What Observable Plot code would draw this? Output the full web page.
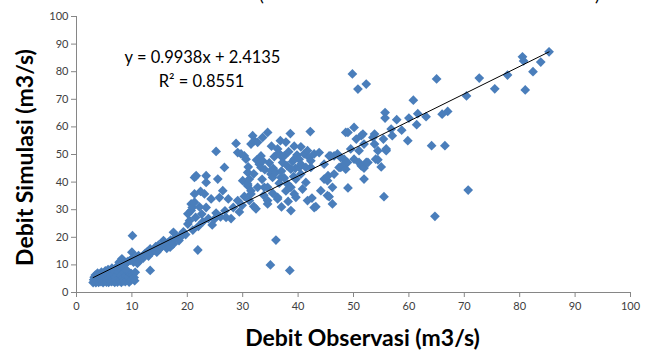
<!DOCTYPE html>
<html><head><meta charset="utf-8">
<script src="https://cdn.jsdelivr.net/npm/d3@7"></script>
<script src="https://cdn.jsdelivr.net/npm/@observablehq/plot@0.6"></script>
<style>
body{margin:0;background:#fff;}
#wrap{position:relative;width:660px;height:354px;overflow:hidden;font-family:Lato,sans-serif;}
#wrap svg{position:absolute;left:0;top:0;}
.paren{position:absolute;top:-15px;font:18px Lato;line-height:18px;color:#000;}
</style></head><body>
<div id="wrap"></div>
<script>
// [Debit Observasi, Debit Simulasi] pairs, grouped by flow range
const lowFlow = [[3.0,3.6],[3.1,4.6],[3.2,5.5],[3.3,4.1],[3.4,6.3],[3.5,3.6],[3.6,5.0],[3.7,4.3],[3.8,7.0],[3.9,5.8],[4.0,3.7],[4.1,4.7],[4.2,6.4],[4.3,5.3],[4.4,3.9],[4.5,7.4],[4.6,4.4],[4.7,6.0],[4.8,3.6],[4.9,5.1],[5.0,6.8],[5.1,4.2],[5.2,7.8],[5.3,5.6],[5.4,3.8],[5.5,4.8],[5.6,6.4],[5.7,8.3],[5.8,3.7],[5.9,5.2],[6.0,4.3],[6.1,7.2],[6.2,6.0],[6.3,3.9],[6.4,8.8],[6.5,5.0],[6.6,4.1],[6.7,6.7],[6.8,7.9],[6.9,3.7],[7.0,5.5],[7.1,4.5],[7.2,9.2],[7.3,6.3],[7.4,3.8],[7.5,7.5],[7.6,5.0],[7.7,11.0],[7.8,4.2],[7.9,8.5],[8.0,6.2],[8.1,3.7],[8.2,12.2],[8.3,9.5],[8.4,5.3],[8.5,4.2],[8.6,7.3],[8.7,10.2],[8.8,3.9],[8.9,6.0],[9.0,8.2],[9.1,10.9],[9.2,4.7],[9.3,11.3],[9.4,5.6],[9.5,3.8],[9.6,7.0],[9.7,11.6],[9.8,4.4],[9.9,6.8],[10.0,12.2],[10.0,14.6],[10.1,20.6],[10.2,6.4],[10.3,11.0],[10.4,5.4],[10.5,4.3],[10.6,7.3],[10.8,12.8],[11.0,10.6],[11.2,13.4],[11.5,11.8],[11.7,12.6],[12.0,12.4],[12.1,13.4],[12.4,14.2]];
const bandFlow = [[12.8,14.8],[13.0,13.2],[13.3,8.0],[13.3,15.8],[13.6,14.6],[14.0,15.4],[14.3,16.6],[14.5,14.6],[14.5,16.4],[14.8,17.2],[15.0,15.8],[15.3,16.4],[15.7,18.8],[16.0,17.0],[16.3,16.0],[16.6,18.2],[16.9,16.4],[17.0,19.0],[17.5,17.6],[17.5,21.8],[17.8,19.6],[18.1,20.0],[18.5,18.8],[18.6,20.4],[19.0,20.5],[19.3,22.0],[19.7,21.0]];
const midLowFlow = [[20.1,24.8],[20.1,28.5],[20.4,26.0],[20.7,29.7],[20.7,32.1],[20.9,30.8],[21.0,22.6],[21.3,32.7],[21.3,35.7],[21.3,41.7],[21.6,42.3],[21.5,27.2],[21.9,15.4],[22.0,24.0],[22.2,31.0],[22.4,36.6],[22.6,28.4],[22.8,25.6],[23.1,35.7],[23.4,30.8],[23.4,39.9],[23.4,42.3],[23.8,26.8],[24.3,33.9],[24.5,24.5],[24.9,26.6],[25.2,51.1],[25.2,28.8],[25.5,41.1],[25.8,34.4],[26.0,27.4],[26.4,36.9],[26.7,45.3],[26.8,29.6],[27.0,27.2],[27.4,33.9],[27.9,26.8],[28.3,30.8],[28.8,54.0],[29.1,33.3],[29.1,50.7],[29.4,29.2],[29.7,50.2],[29.9,31.6]];
const midFlow = [[30.0,40.5],[30.3,34.8],[30.3,49.5],[30.6,48.3],[30.9,43.5],[30.9,38.7],[30.9,39.3],[31.0,45.5],[31.2,41.1],[31.2,33.3],[31.5,36.9],[31.5,35.7],[31.5,53.8],[31.8,56.8],[32.0,31.2],[32.0,43.0],[32.1,55.0],[32.4,30.3],[32.5,48.0],[32.7,38.1],[32.7,54.4],[33.0,46.5],[33.3,49.5],[33.3,45.3],[33.5,41.0],[33.6,47.7],[33.6,56.2],[33.8,35.2],[33.9,38.1],[34.0,44.5],[34.5,32.1],[34.5,33.3],[34.5,38.1],[34.5,58.0],[34.8,47.0],[35.0,10.0],[35.1,42.9],[35.1,44.1],[35.2,53.0],[35.4,41.7],[35.4,36.0],[35.5,45.0],[35.7,49.2],[36.0,19.0],[36.0,43.5],[36.3,33.9],[36.3,34.5],[36.3,52.0],[36.5,50.5],[36.6,39.6],[36.8,55.0],[36.9,49.5],[36.9,41.7],[37.0,31.0],[37.0,44.0],[37.2,47.1],[37.5,49.5],[37.5,41.5],[37.8,36.8],[37.8,54.5],[38.0,46.0],[38.1,39.3],[38.2,33.0],[38.3,51.0],[38.5,8.0],[38.6,57.6],[38.7,44.7],[38.7,38.1],[38.7,29.7],[39.0,47.5],[39.2,42.0],[39.3,48.3],[39.3,35.7],[39.3,53.0],[39.5,45.0],[39.6,34.5],[39.6,41.1],[39.8,49.8]];
const midHighFlow = [[40.2,45.3],[40.2,48.3],[40.5,52.8],[40.5,46.5],[40.5,42.9],[40.8,37.5],[41.1,50.2],[41.4,39.9],[41.4,45.3],[41.7,51.4],[41.7,33.3],[42.0,48.9],[42.2,58.3],[42.3,45.3],[42.3,47.7],[42.5,34.2],[42.9,50.2],[42.9,30.8],[43.2,31.1],[43.8,50.7],[44.1,36.9],[44.7,46.5],[44.7,41.1],[45.3,40.5],[45.3,35.1],[45.4,42.3],[45.6,49.5],[45.6,34.7],[45.9,49.5],[46.2,38.1],[46.2,32.1],[46.5,42.9],[46.5,49.5],[47.1,50.2],[47.4,45.3],[47.7,45.3],[47.7,48.9],[48.3,48.3],[48.3,46.5],[48.6,44.7],[48.6,58.0],[48.9,47.1],[49.0,37.9],[49.0,58.0],[49.5,52.0],[49.8,79.2],[50.1,59.8],[50.1,48.3],[50.5,55.6],[50.8,73.7],[51.0,51.4],[51.0,47.1],[51.4,56.8],[51.4,45.9],[51.7,57.4],[51.9,53.8],[51.9,41.1],[51.9,45.1],[52.3,75.5],[52.3,47.1],[52.6,47.1],[53.5,56.2],[53.8,57.4],[53.8,53.8],[54.0,48.3],[54.4,51.4],[54.4,48.1],[55.0,45.5]];
const highFlow = [[55.5,34.7],[55.7,65.2],[55.7,63.2],[55.4,55.6],[55.9,52.0],[55.9,51.4],[56.8,59.2],[57.0,56.8],[57.8,62.6],[58.7,58.8],[59.8,55.0],[60.0,63.2],[60.8,69.7],[61.4,60.8],[61.6,64.8],[63.1,63.7],[64.1,53.2],[64.7,27.6],[65.0,77.4],[66.0,64.6],[66.5,53.2],[67.0,65.6],[70.4,71.2],[70.7,37.1],[72.7,77.7],[75.5,73.8],[77.8,78.8],[80.5,85.4],[80.7,83.9],[81.0,73.4],[82.4,80.0],[83.8,83.5],[85.3,87.2]];

const xTicks = [0,10,20,30,40,50,60,70,80,90,100];
const yTicks = [0,10,20,30,40,50,60,70,80,90,100];
const slope = 0.9938, intercept = 2.4135, rSquared = 0.8551;
const xTitle = "Debit Observasi (m3/s)";
const yTitle = "Debit Simulasi (m3/s)";

const points = [...lowFlow, ...bandFlow, ...midLowFlow, ...midFlow, ...midHighFlow, ...highFlow]
  .map(([obs, sim]) => ({obs, sim}));
const xExt = d3.extent(points, d => d.obs);
const trend = xExt.map(x => ({obs: x, sim: slope * x + intercept}));

const mL = 76, mT = 16;
const chart = Plot.plot({
  width: 660, height: 354,
  marginLeft: mL, marginRight: 30, marginTop: mT, marginBottom: 62,
  style: {fontFamily: "Lato, sans-serif", background: "transparent"},
  x: {domain: [0, 100]},
  y: {domain: [0, 100]},
  marks: [
    Plot.ruleX([0], {stroke: "#868686"}),
    Plot.ruleY([0], {stroke: "#868686"}),
    Plot.axisX({ticks: xTicks, tickSize: 5, tickPadding: 5, stroke: "#868686", fill: "#404040", fontSize: 11, label: null, tickFormat: d => d}),
    Plot.axisY({ticks: yTicks, tickSize: 5, tickPadding: 3, stroke: "#868686", fill: "#404040", fontSize: 11, label: null, tickFormat: d => d}),
    Plot.dot(points, {x: "obs", y: "sim", symbol: "diamond2", r: 4.4, fill: "#4A7EBB", stroke: null}),
    Plot.line(trend, {x: "obs", y: "sim", stroke: "#000", strokeWidth: 1}),
    Plot.text([`y = ${slope}x + ${intercept}`], {frameAnchor: "top-left", dx: 202 - mL, dy: 51 - mT, textAnchor: "middle", fontSize: 16.5, fill: "#000"}),
    Plot.text([`R² = ${rSquared}`], {frameAnchor: "top-left", dx: 201 - mL, dy: 75 - mT, textAnchor: "middle", fontSize: 16.5, fill: "#000"}),
    Plot.text([xTitle], {frameAnchor: "bottom", dx: 9, dy: 53, textAnchor: "middle", fontSize: 23, fontWeight: "bold", fill: "#000"}),
    Plot.text([yTitle], {frameAnchor: "left", dx: -51, dy: 3, textAnchor: "middle", rotate: -90, fontSize: 23, fontWeight: "bold", fill: "#000"})
  ]
});
const wrap = document.getElementById("wrap");
wrap.appendChild(chart);
for (const [ch, left] of [["(", 259], [")", 595]]) {
  const s = document.createElement("span");
  s.className = "paren"; s.textContent = ch; s.style.left = left + "px";
  wrap.appendChild(s);
}
</script>
</body></html>
